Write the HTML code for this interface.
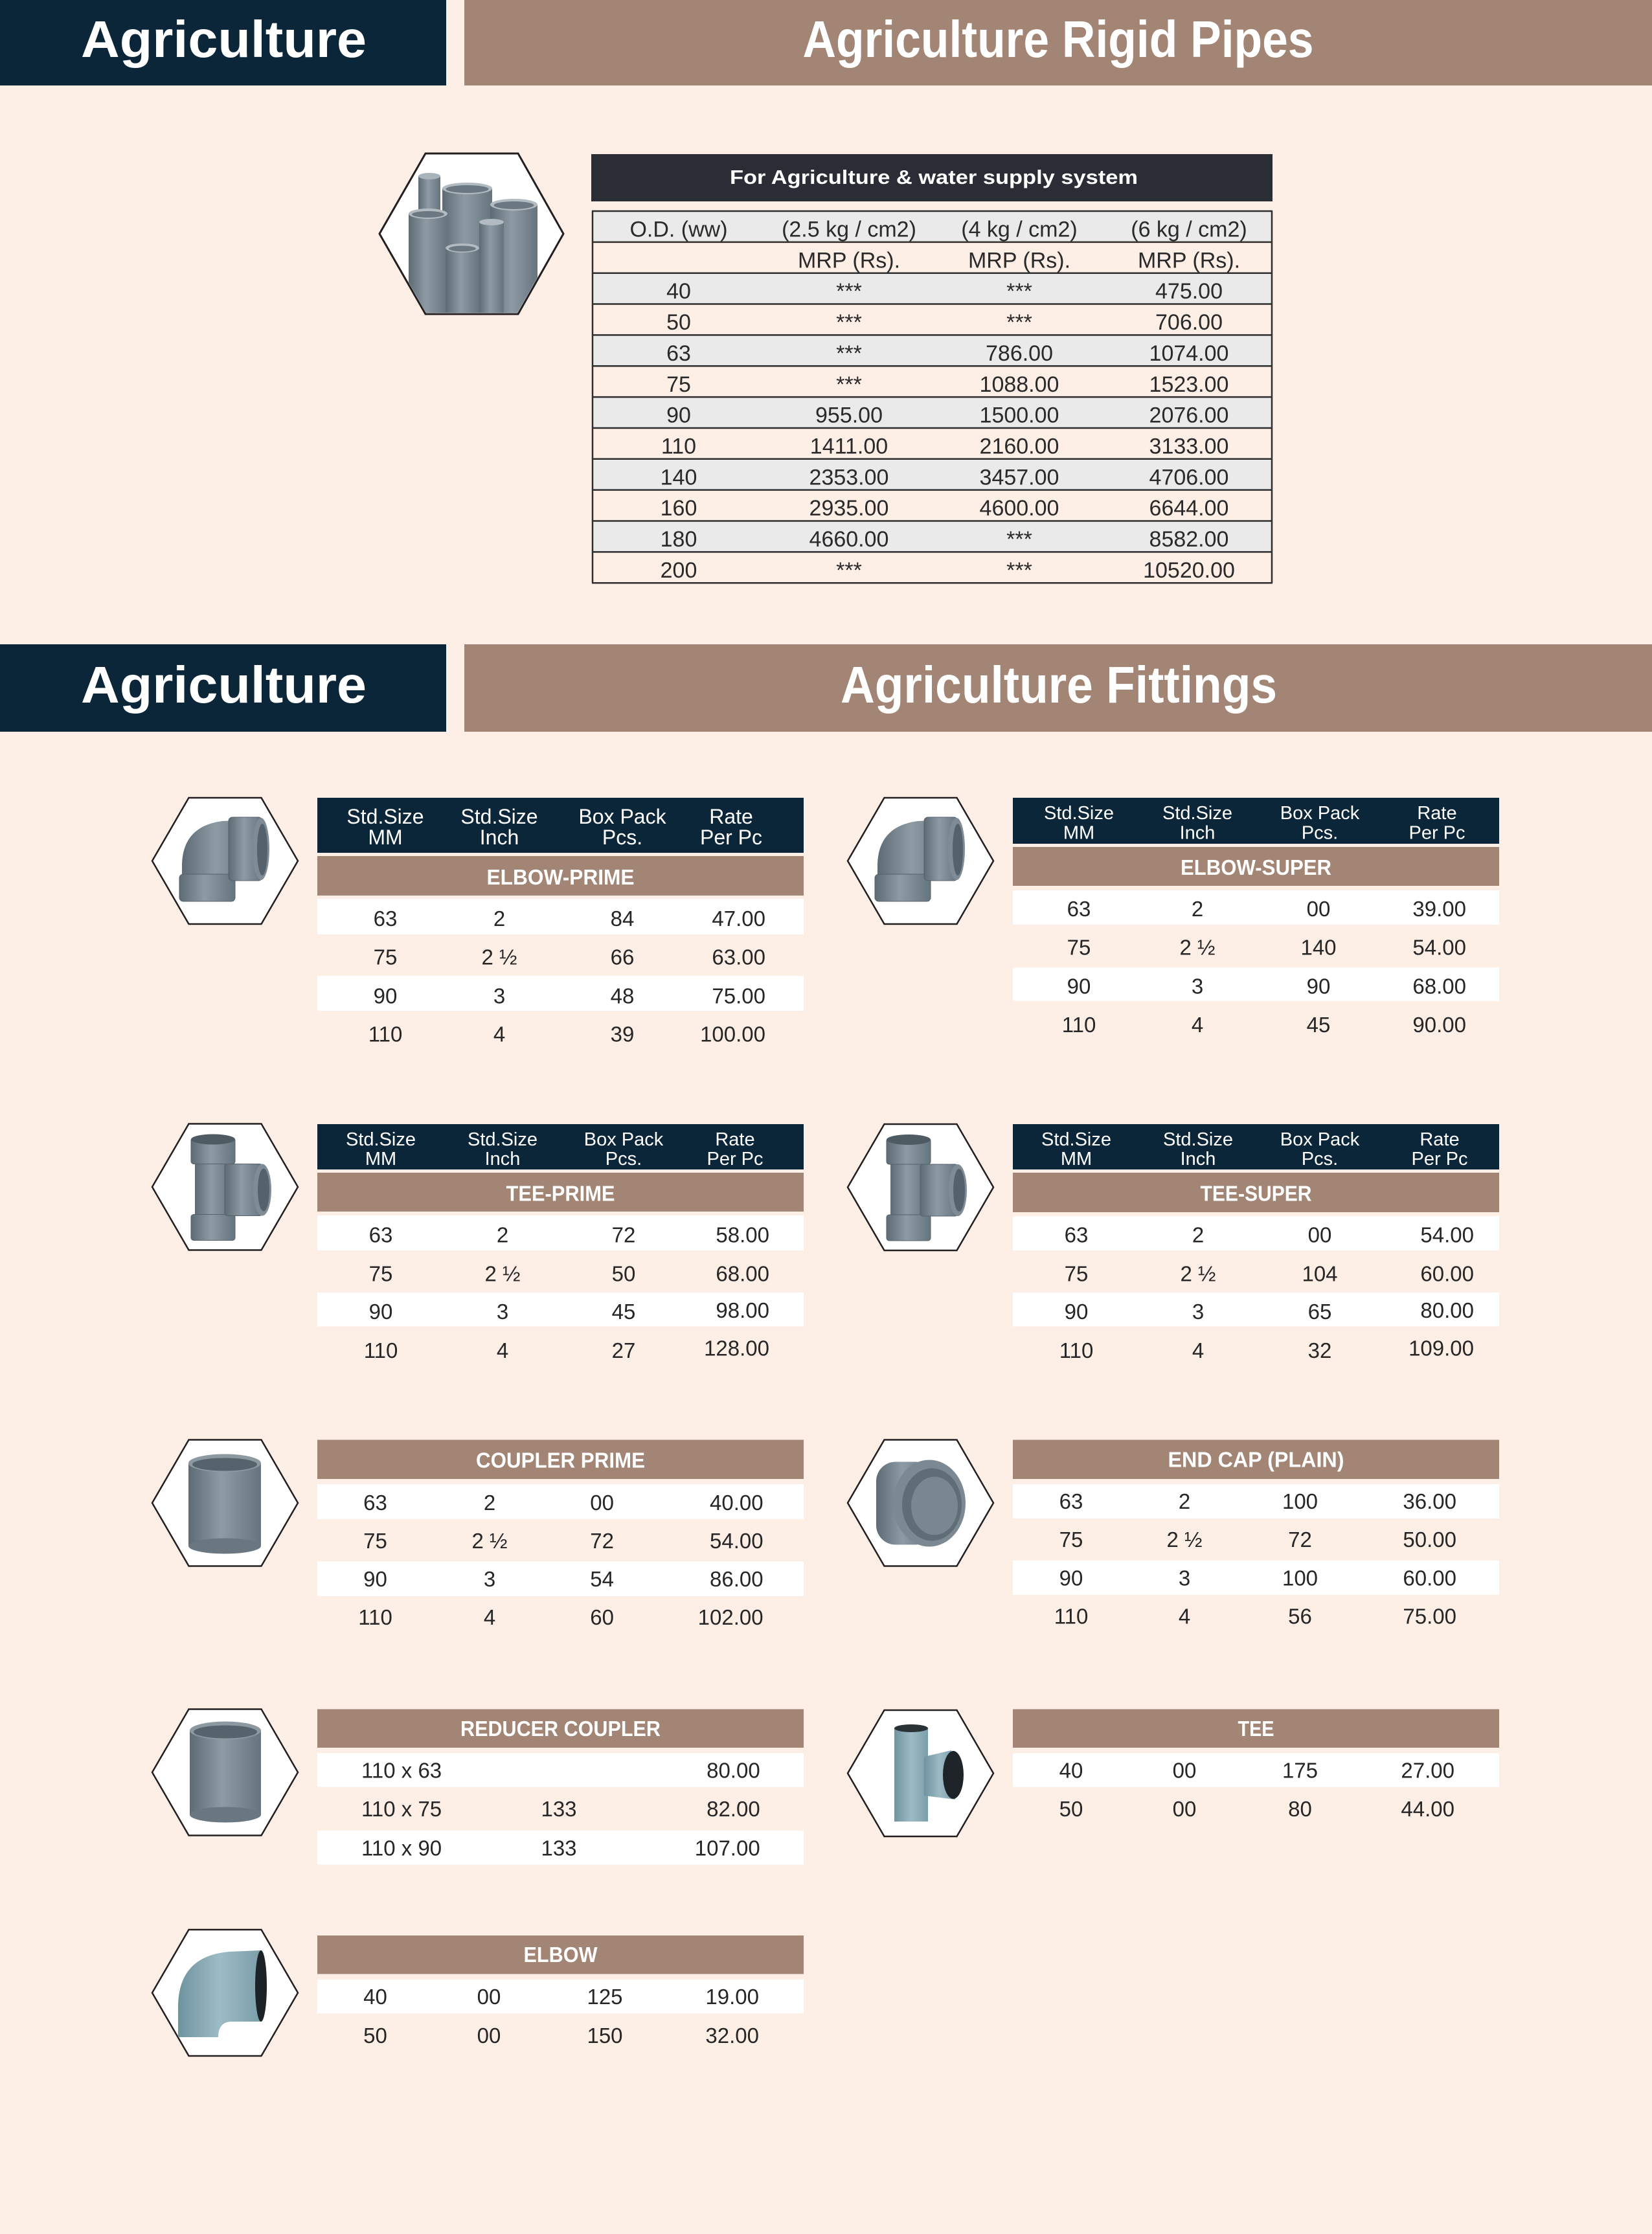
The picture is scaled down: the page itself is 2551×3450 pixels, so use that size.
<!DOCTYPE html>
<html><head><meta charset="utf-8"><style>
html,body{margin:0;padding:0;background:#fdeee6;}
svg{display:block;}
text{font-family:"Liberation Sans",Arial,sans-serif;}
.d{font-size:33px;fill:#262626;text-anchor:middle;}
.e{font-size:33px;fill:#262626;text-anchor:end;}
.s{font-size:33px;fill:#262626;text-anchor:start;}
.p{font-size:34px;fill:#2a2a2a;text-anchor:middle;}
.h1{font-size:32px;fill:#fff;text-anchor:middle;}
.h2{font-size:29px;fill:#fff;text-anchor:middle;}
.t{font-size:33px;fill:#fff;font-weight:bold;text-anchor:middle;}
.big{font-size:80px;fill:#fff;font-weight:bold;}
</style></head><body>
<svg xmlns="http://www.w3.org/2000/svg" width="2551" height="3450" viewBox="0 0 2551 3450">
<defs>
<linearGradient id="gp" x1="0" x2="1" y1="0" y2="0"><stop offset="0" stop-color="#5d6b75"/><stop offset="0.45" stop-color="#8e9ba4"/><stop offset="1" stop-color="#66747e"/></linearGradient>
<linearGradient id="gb" x1="0" x2="1" y1="0" y2="0"><stop offset="0" stop-color="#6e93a0"/><stop offset="0.5" stop-color="#9dbbc5"/><stop offset="1" stop-color="#7a9ea9"/></linearGradient>
<clipPath id="hx"><polygon points="588,361 658,239 799,239 868,361 799,483 658,483"/></clipPath>
</defs>
<rect x="0" y="0" width="2551" height="3450" fill="#fdeee6"/>

<!-- Top header -->
<rect x="0" y="0" width="689" height="132" fill="#0b2639"/>
<rect x="717" y="0" width="1834" height="132" fill="#a28574"/>
<text class="big" x="125" y="88" textLength="441" lengthAdjust="spacingAndGlyphs">Agriculture</text>
<text class="big" x="1634" y="88" text-anchor="middle" textLength="789" lengthAdjust="spacingAndGlyphs">Agriculture Rigid Pipes</text>

<!-- Pipes hexagon -->
<polygon points="586,361 657,237 800,237 870,361 800,485 657,485" fill="#fff" stroke="#231f20" stroke-width="3"/>
<g clip-path="url(#hx)">
<rect x="646" y="272" width="34" height="215" fill="url(#gp)"/><ellipse cx="663" cy="272" rx="17" ry="5" fill="#a9b3ba"/>
<rect x="683" y="291" width="77" height="196" fill="url(#gp)"/><ellipse cx="721.5" cy="291" rx="38.5" ry="9" fill="#b2bbc1"/><ellipse cx="721.5" cy="292" rx="33" ry="6" fill="#6c7881"/>
<rect x="757" y="316" width="73" height="171" fill="url(#gp)"/><ellipse cx="793.5" cy="316" rx="36.5" ry="9" fill="#b2bbc1"/><ellipse cx="793.5" cy="317" rx="31" ry="6" fill="#6c7881"/>
<rect x="631" y="330" width="60" height="157" fill="url(#gp)"/><ellipse cx="661" cy="330" rx="30" ry="8" fill="#b2bbc1"/><ellipse cx="661" cy="331" rx="25" ry="5" fill="#6c7881"/>
<rect x="740" y="343" width="38" height="144" fill="url(#gp)"/><ellipse cx="759" cy="343" rx="19" ry="5" fill="#b2bbc1"/>
<rect x="688" y="383" width="52" height="104" fill="url(#gp)"/><ellipse cx="714" cy="383" rx="26" ry="7" fill="#b2bbc1"/><ellipse cx="714" cy="384" rx="21" ry="4.5" fill="#6c7881"/>
</g>

<!-- Pipe table -->
<rect x="913" y="238" width="1052" height="73" fill="#2b2d36"/>
<text x="1442" y="284" text-anchor="middle" font-size="31" font-weight="bold" fill="#fff" textLength="630" lengthAdjust="spacingAndGlyphs">For Agriculture &amp; water supply system</text>
<g fill="#eaeaea">
<rect x="915" y="326" width="1049" height="47.85"/>
<rect x="915" y="421.7" width="1049" height="47.85"/>
<rect x="915" y="517.4" width="1049" height="47.85"/>
<rect x="915" y="613.1" width="1049" height="47.85"/>
<rect x="915" y="708.8" width="1049" height="47.85"/>
<rect x="915" y="804.5" width="1049" height="47.85"/>
</g>
<g stroke="#2e2e2e" stroke-width="2.5">
<line x1="914" x2="1965" y1="326" y2="326"/>
<line x1="914" x2="1965" y1="373.85" y2="373.85"/>
<line x1="914" x2="1965" y1="421.7" y2="421.7"/>
<line x1="914" x2="1965" y1="469.55" y2="469.55"/>
<line x1="914" x2="1965" y1="517.4" y2="517.4"/>
<line x1="914" x2="1965" y1="565.25" y2="565.25"/>
<line x1="914" x2="1965" y1="613.1" y2="613.1"/>
<line x1="914" x2="1965" y1="660.95" y2="660.95"/>
<line x1="914" x2="1965" y1="708.8" y2="708.8"/>
<line x1="914" x2="1965" y1="756.65" y2="756.65"/>
<line x1="914" x2="1965" y1="804.5" y2="804.5"/>
<line x1="914" x2="1965" y1="852.35" y2="852.35"/>
<line x1="914" x2="1965" y1="900.2" y2="900.2"/>
<line x1="915" x2="915" y1="326" y2="900.2"/>
<line x1="1964" x2="1964" y1="326" y2="900.2"/>
</g>
<text class="p" x="1048" y="365.5">O.D. (ww)</text><text class="p" x="1311" y="365.5">(2.5 kg / cm2)</text><text class="p" x="1574" y="365.5">(4 kg / cm2)</text><text class="p" x="1836" y="365.5">(6 kg / cm2)</text>
<text class="p" x="1311" y="413.4">MRP (Rs).</text><text class="p" x="1574" y="413.4">MRP (Rs).</text><text class="p" x="1836" y="413.4">MRP (Rs).</text>
<text class="p" x="1048" y="461.2">40</text><text class="p" x="1311" y="461.2">***</text><text class="p" x="1574" y="461.2">***</text><text class="p" x="1836" y="461.2">475.00</text>
<text class="p" x="1048" y="509">50</text><text class="p" x="1311" y="509">***</text><text class="p" x="1574" y="509">***</text><text class="p" x="1836" y="509">706.00</text>
<text class="p" x="1048" y="556.9">63</text><text class="p" x="1311" y="556.9">***</text><text class="p" x="1574" y="556.9">786.00</text><text class="p" x="1836" y="556.9">1074.00</text>
<text class="p" x="1048" y="604.8">75</text><text class="p" x="1311" y="604.8">***</text><text class="p" x="1574" y="604.8">1088.00</text><text class="p" x="1836" y="604.8">1523.00</text>
<text class="p" x="1048" y="652.6">90</text><text class="p" x="1311" y="652.6">955.00</text><text class="p" x="1574" y="652.6">1500.00</text><text class="p" x="1836" y="652.6">2076.00</text>
<text class="p" x="1048" y="700.5">110</text><text class="p" x="1311" y="700.5">1411.00</text><text class="p" x="1574" y="700.5">2160.00</text><text class="p" x="1836" y="700.5">3133.00</text>
<text class="p" x="1048" y="748.3">140</text><text class="p" x="1311" y="748.3">2353.00</text><text class="p" x="1574" y="748.3">3457.00</text><text class="p" x="1836" y="748.3">4706.00</text>
<text class="p" x="1048" y="796.2">160</text><text class="p" x="1311" y="796.2">2935.00</text><text class="p" x="1574" y="796.2">4600.00</text><text class="p" x="1836" y="796.2">6644.00</text>
<text class="p" x="1048" y="844">180</text><text class="p" x="1311" y="844">4660.00</text><text class="p" x="1574" y="844">***</text><text class="p" x="1836" y="844">8582.00</text>
<text class="p" x="1048" y="891.9">200</text><text class="p" x="1311" y="891.9">***</text><text class="p" x="1574" y="891.9">***</text><text class="p" x="1836" y="891.9">10520.00</text>

<!-- Second header -->
<rect x="0" y="995" width="689" height="135" fill="#0b2639"/>
<rect x="717" y="995" width="1834" height="135" fill="#a28574"/>
<text class="big" x="125" y="1085" textLength="441" lengthAdjust="spacingAndGlyphs">Agriculture</text>
<text class="big" x="1635" y="1085" text-anchor="middle" textLength="674" lengthAdjust="spacingAndGlyphs">Agriculture Fittings</text>

<!-- Hexagons -->
<g fill="#fff" stroke="#231f20" stroke-width="2.5">
<polygon points="235,1329.5 291.5,1232 403.5,1232 460,1329.5 403.5,1427 291.5,1427"/>
<polygon points="235,1833 291.5,1735.5 403.5,1735.5 460,1833 403.5,1930.5 291.5,1930.5"/>
<polygon points="235,2321 291.5,2223.5 403.5,2223.5 460,2321 403.5,2418.5 291.5,2418.5"/>
<polygon points="235,2737 291.5,2639.5 403.5,2639.5 460,2737 403.5,2834.5 291.5,2834.5"/>
<polygon points="235,3077.5 291.5,2980 403.5,2980 460,3077.5 403.5,3175 291.5,3175"/>
<polygon points="1309,1329.5 1365.5,1232 1477.5,1232 1534,1329.5 1477.5,1427 1365.5,1427"/>
<polygon points="1309,1833.5 1365.5,1736 1477.5,1736 1534,1833.5 1477.5,1931 1365.5,1931"/>
<polygon points="1309,2321 1365.5,2223.5 1477.5,2223.5 1534,2321 1477.5,2418.5 1365.5,2418.5"/>
<polygon points="1309,2738.5 1365.5,2641 1477.5,2641 1534,2738.5 1477.5,2836 1365.5,2836"/>
</g>

<!-- Elbow grey (prime) -->
<g transform="translate(235,1232)">
<path d="M46,160 L46,102 Q48,44 108,36 L160,34 L160,124 L126,124 L126,160 Z" fill="url(#gp)"/>
<rect x="42" y="118" width="86" height="42" rx="6" fill="url(#gp)" stroke="#55626b" stroke-width="1"/>
<rect x="118" y="30" width="52" height="98" rx="6" fill="url(#gp)" stroke="#55626b" stroke-width="1"/>
<ellipse cx="168" cy="79" rx="13" ry="48" fill="#7f8c95"/><ellipse cx="170" cy="80" rx="8" ry="40" fill="#55626b"/>
</g>
<g transform="translate(1309,1232)">
<path d="M46,160 L46,102 Q48,44 108,36 L160,34 L160,124 L126,124 L126,160 Z" fill="url(#gp)"/>
<rect x="42" y="118" width="86" height="42" rx="6" fill="url(#gp)" stroke="#55626b" stroke-width="1"/>
<rect x="118" y="30" width="52" height="98" rx="6" fill="url(#gp)" stroke="#55626b" stroke-width="1"/>
<ellipse cx="168" cy="79" rx="13" ry="48" fill="#7f8c95"/><ellipse cx="170" cy="80" rx="8" ry="40" fill="#55626b"/>
</g>
<!-- Tee grey -->
<g transform="translate(235,1735.5)">
<rect x="66" y="22" width="56" height="156" fill="url(#gp)"/>
<rect x="60" y="22" width="68" height="40" rx="4" fill="url(#gp)" stroke="#55626b" stroke-width="1"/>
<rect x="60" y="140" width="68" height="40" rx="4" fill="url(#gp)" stroke="#55626b" stroke-width="1"/>
<ellipse cx="94" cy="24" rx="34" ry="8" fill="#4f5b63"/>
<rect x="112" y="62" width="58" height="80" rx="4" fill="url(#gp)" stroke="#55626b" stroke-width="1"/>
<ellipse cx="170" cy="102" rx="14" ry="40" fill="#7f8c95"/><ellipse cx="172" cy="102" rx="9" ry="33" fill="#55626b"/>
</g>
<g transform="translate(1309,1736)">
<rect x="66" y="22" width="56" height="156" fill="url(#gp)"/>
<rect x="60" y="22" width="68" height="40" rx="4" fill="url(#gp)" stroke="#55626b" stroke-width="1"/>
<rect x="60" y="140" width="68" height="40" rx="4" fill="url(#gp)" stroke="#55626b" stroke-width="1"/>
<ellipse cx="94" cy="24" rx="34" ry="8" fill="#4f5b63"/>
<rect x="112" y="62" width="58" height="80" rx="4" fill="url(#gp)" stroke="#55626b" stroke-width="1"/>
<ellipse cx="170" cy="102" rx="14" ry="40" fill="#7f8c95"/><ellipse cx="172" cy="102" rx="9" ry="33" fill="#55626b"/>
</g>
<!-- Couplers -->
<g transform="translate(235,2223.5)">
<rect x="56" y="36" width="112" height="128" fill="url(#gp)"/>
<ellipse cx="112" cy="164" rx="56" ry="12" fill="#6a7780"/>
<ellipse cx="112" cy="36" rx="56" ry="14" fill="#8d99a1"/><ellipse cx="112" cy="38" rx="50" ry="10" fill="#56636c"/>
</g>
<g transform="translate(235,2639.5)">
<rect x="58" y="33" width="110" height="130" fill="url(#gp)"/>
<ellipse cx="113" cy="163" rx="55" ry="12" fill="#6a7780"/>
<ellipse cx="113" cy="33" rx="55" ry="14" fill="#8d99a1"/><ellipse cx="113" cy="35" rx="49" ry="10" fill="#56636c"/>
</g>
<!-- End cap -->
<g transform="translate(1309,2223.5)">
<rect x="44" y="34" width="90" height="128" rx="30" fill="url(#gp)"/>
<ellipse cx="126" cy="98" rx="56" ry="67" fill="#7c8992"/>
<ellipse cx="130" cy="100" rx="46" ry="56" fill="#5f6d76"/>
<ellipse cx="134" cy="102" rx="36" ry="45" fill="#7a8790"/>
</g>
<!-- Tee blue -->
<g transform="translate(1309,2641)">
<rect x="72" y="28" width="52" height="144" fill="url(#gb)"/>
<ellipse cx="98" cy="28" rx="26" ry="6" fill="#2a3236"/>
<path d="M118,72 L160,62 L166,138 L118,132 Z" fill="url(#gb)"/>
<ellipse cx="163" cy="100" rx="16" ry="37" fill="#1e2427"/>
</g>
<!-- Elbow blue -->
<g transform="translate(235,2980)">
<path d="M40,166 L40,116 Q42,40 120,34 L168,32 L168,142 L120,142 Q102,144 102,166 Z" fill="url(#gb)"/>
<ellipse cx="168" cy="87" rx="9" ry="55" fill="#1c2226"/>
</g>

<!-- ===== ELBOW-PRIME ===== -->
<rect x="490" y="1232" width="751" height="85" fill="#0b2639"/>
<text class="h1" x="595" y="1272">Std.Size</text><text class="h1" x="595" y="1304">MM</text>
<text class="h1" x="771" y="1272">Std.Size</text><text class="h1" x="771" y="1304">Inch</text>
<text class="h1" x="961" y="1272">Box Pack</text><text class="h1" x="961" y="1304">Pcs.</text>
<text class="h1" x="1129" y="1272">Rate</text><text class="h1" x="1129" y="1304">Per Pc</text>
<rect x="490" y="1322" width="751" height="61" fill="#a28574"/>
<text class="t" x="865.5" y="1366" textLength="228" lengthAdjust="spacingAndGlyphs">ELBOW-PRIME</text>
<rect x="490" y="1388" width="751" height="55" fill="#fff"/>
<rect x="490" y="1507" width="751" height="54" fill="#fff"/>
<text class="d" x="595" y="1430">63</text><text class="d" x="771" y="1430">2</text><text class="d" x="961" y="1430">84</text><text class="e" x="1182" y="1430">47.00</text>
<text class="d" x="595" y="1489.5">75</text><text class="d" x="771" y="1489.5">2 ½</text><text class="d" x="961" y="1489.5">66</text><text class="e" x="1182" y="1489.5">63.00</text>
<text class="d" x="595" y="1549.5">90</text><text class="d" x="771" y="1549.5">3</text><text class="d" x="961" y="1549.5">48</text><text class="e" x="1182" y="1549.5">75.00</text>
<text class="d" x="595" y="1608.5">110</text><text class="d" x="771" y="1608.5">4</text><text class="d" x="961" y="1608.5">39</text><text class="e" x="1182" y="1608.5">100.00</text>

<!-- ===== ELBOW-SUPER ===== -->
<rect x="1564" y="1232" width="751" height="71" fill="#0b2639"/>
<text class="h2" x="1666" y="1265">Std.Size</text><text class="h2" x="1666" y="1295.5">MM</text>
<text class="h2" x="1849" y="1265">Std.Size</text><text class="h2" x="1849" y="1295.5">Inch</text>
<text class="h2" x="2038" y="1265">Box Pack</text><text class="h2" x="2038" y="1295.5">Pcs.</text>
<text class="h2" x="2219" y="1265">Rate</text><text class="h2" x="2219" y="1295.5">Per Pc</text>
<rect x="1564" y="1308" width="751" height="60" fill="#a28574"/>
<text class="t" x="1939.5" y="1351" textLength="233" lengthAdjust="spacingAndGlyphs">ELBOW-SUPER</text>
<rect x="1564" y="1375" width="751" height="53" fill="#fff"/>
<rect x="1564" y="1494" width="751" height="52" fill="#fff"/>
<text class="d" x="1666" y="1415">63</text><text class="d" x="1849" y="1415">2</text><text class="d" x="2036" y="1415">00</text><text class="e" x="2264" y="1415">39.00</text>
<text class="d" x="1666" y="1474.6">75</text><text class="d" x="1849" y="1474.6">2 ½</text><text class="d" x="2036" y="1474.6">140</text><text class="e" x="2264" y="1474.6">54.00</text>
<text class="d" x="1666" y="1534.3">90</text><text class="d" x="1849" y="1534.3">3</text><text class="d" x="2036" y="1534.3">90</text><text class="e" x="2264" y="1534.3">68.00</text>
<text class="d" x="1666" y="1594">110</text><text class="d" x="1849" y="1594">4</text><text class="d" x="2036" y="1594">45</text><text class="e" x="2264" y="1594">90.00</text>

<!-- ===== TEE-PRIME ===== -->
<rect x="490" y="1736" width="751" height="70" fill="#0b2639"/>
<text class="h2" x="588" y="1769">Std.Size</text><text class="h2" x="588" y="1799">MM</text>
<text class="h2" x="776" y="1769">Std.Size</text><text class="h2" x="776" y="1799">Inch</text>
<text class="h2" x="963" y="1769">Box Pack</text><text class="h2" x="963" y="1799">Pcs.</text>
<text class="h2" x="1135" y="1769">Rate</text><text class="h2" x="1135" y="1799">Per Pc</text>
<rect x="490" y="1811" width="751" height="60" fill="#a28574"/>
<text class="t" x="865.5" y="1854.5" textLength="168" lengthAdjust="spacingAndGlyphs">TEE-PRIME</text>
<rect x="490" y="1877" width="751" height="54" fill="#fff"/>
<rect x="490" y="1996" width="751" height="52.5" fill="#fff"/>
<text class="d" x="588" y="1918.7">63</text><text class="d" x="776" y="1918.7">2</text><text class="d" x="963" y="1918.7">72</text><text class="e" x="1188" y="1918.7">58.00</text>
<text class="d" x="588" y="1978.3">75</text><text class="d" x="776" y="1978.3">2 ½</text><text class="d" x="963" y="1978.3">50</text><text class="e" x="1188" y="1978.3">68.00</text>
<text class="d" x="588" y="2037.2">90</text><text class="d" x="776" y="2037.2">3</text><text class="d" x="963" y="2037.2">45</text><text class="e" x="1188" y="2035">98.00</text>
<text class="d" x="588" y="2096.9">110</text><text class="d" x="776" y="2096.9">4</text><text class="d" x="963" y="2096.9">27</text><text class="e" x="1188" y="2093.5">128.00</text>

<!-- ===== TEE-SUPER ===== -->
<rect x="1564" y="1736" width="751" height="70" fill="#0b2639"/>
<text class="h2" x="1662" y="1769">Std.Size</text><text class="h2" x="1662" y="1799">MM</text>
<text class="h2" x="1850" y="1769">Std.Size</text><text class="h2" x="1850" y="1799">Inch</text>
<text class="h2" x="2038" y="1769">Box Pack</text><text class="h2" x="2038" y="1799">Pcs.</text>
<text class="h2" x="2223" y="1769">Rate</text><text class="h2" x="2223" y="1799">Per Pc</text>
<rect x="1564" y="1811" width="751" height="61" fill="#a28574"/>
<text class="t" x="1939.5" y="1854.5" textLength="172" lengthAdjust="spacingAndGlyphs">TEE-SUPER</text>
<rect x="1564" y="1878" width="751" height="53" fill="#fff"/>
<rect x="1564" y="1996" width="751" height="52.5" fill="#fff"/>
<text class="d" x="1662" y="1918.7">63</text><text class="d" x="1850" y="1918.7">2</text><text class="d" x="2038" y="1918.7">00</text><text class="e" x="2276" y="1918.7">54.00</text>
<text class="d" x="1662" y="1978.3">75</text><text class="d" x="1850" y="1978.3">2 ½</text><text class="d" x="2038" y="1978.3">104</text><text class="e" x="2276" y="1978.3">60.00</text>
<text class="d" x="1662" y="2037.2">90</text><text class="d" x="1850" y="2037.2">3</text><text class="d" x="2038" y="2037.2">65</text><text class="e" x="2276" y="2035">80.00</text>
<text class="d" x="1662" y="2096.9">110</text><text class="d" x="1850" y="2096.9">4</text><text class="d" x="2038" y="2096.9">32</text><text class="e" x="2276" y="2093.5">109.00</text>

<!-- ===== COUPLER PRIME ===== -->
<rect x="490" y="2223.5" width="751" height="60.5" fill="#a28574"/>
<text class="t" x="865.5" y="2266.3" textLength="261" lengthAdjust="spacingAndGlyphs">COUPLER PRIME</text>
<rect x="490" y="2292" width="751" height="54" fill="#fff"/>
<rect x="490" y="2411.5" width="751" height="53.5" fill="#fff"/>
<text class="d" x="579.5" y="2332">63</text><text class="d" x="756" y="2332">2</text><text class="d" x="929.6" y="2332">00</text><text class="e" x="1178.6" y="2332">40.00</text>
<text class="d" x="579.5" y="2391">75</text><text class="d" x="756" y="2391">2 ½</text><text class="d" x="929.6" y="2391">72</text><text class="e" x="1178.6" y="2391">54.00</text>
<text class="d" x="579.5" y="2450">90</text><text class="d" x="756" y="2450">3</text><text class="d" x="929.6" y="2450">54</text><text class="e" x="1178.6" y="2450">86.00</text>
<text class="d" x="579.5" y="2509">110</text><text class="d" x="756" y="2509">4</text><text class="d" x="929.6" y="2509">60</text><text class="e" x="1178.6" y="2509">102.00</text>

<!-- ===== END CAP ===== -->
<rect x="1564" y="2223.5" width="751" height="60.5" fill="#a28574"/>
<text class="t" x="1939.5" y="2265.6" textLength="272" lengthAdjust="spacingAndGlyphs">END CAP (PLAIN)</text>
<rect x="1564" y="2292" width="751" height="53" fill="#fff"/>
<rect x="1564" y="2410" width="751" height="53" fill="#fff"/>
<text class="d" x="1654" y="2330">63</text><text class="d" x="1829" y="2330">2</text><text class="d" x="2007.5" y="2330">100</text><text class="e" x="2249" y="2330">36.00</text>
<text class="d" x="1654" y="2389">75</text><text class="d" x="1829" y="2389">2 ½</text><text class="d" x="2007.5" y="2389">72</text><text class="e" x="2249" y="2389">50.00</text>
<text class="d" x="1654" y="2448.7">90</text><text class="d" x="1829" y="2448.7">3</text><text class="d" x="2007.5" y="2448.7">100</text><text class="e" x="2249" y="2448.7">60.00</text>
<text class="d" x="1654" y="2507.6">110</text><text class="d" x="1829" y="2507.6">4</text><text class="d" x="2007.5" y="2507.6">56</text><text class="e" x="2249" y="2507.6">75.00</text>

<!-- ===== REDUCER COUPLER ===== -->
<rect x="490" y="2639.5" width="751" height="59.5" fill="#a28574"/>
<text class="t" x="865.5" y="2681" textLength="309" lengthAdjust="spacingAndGlyphs">REDUCER COUPLER</text>
<rect x="490" y="2707.5" width="751" height="52" fill="#fff"/>
<rect x="490" y="2827" width="751" height="52.5" fill="#fff"/>
<text class="s" x="558" y="2745.4">110 x 63</text><text class="e" x="1173.7" y="2745.4">80.00</text>
<text class="s" x="558" y="2805">110 x 75</text><text class="d" x="863" y="2805">133</text><text class="e" x="1173.7" y="2805">82.00</text>
<text class="s" x="558" y="2865.4">110 x 90</text><text class="d" x="863" y="2865.4">133</text><text class="e" x="1173.7" y="2865.4">107.00</text>

<!-- ===== TEE ===== -->
<rect x="1564" y="2639.5" width="751" height="59.5" fill="#a28574"/>
<text class="t" x="1939.5" y="2681" textLength="56" lengthAdjust="spacingAndGlyphs">TEE</text>
<rect x="1564" y="2707.5" width="751" height="52" fill="#fff"/>
<text class="d" x="1654" y="2745.4">40</text><text class="d" x="1829" y="2745.4">00</text><text class="d" x="2007.5" y="2745.4">175</text><text class="e" x="2246" y="2745.4">27.00</text>
<text class="d" x="1654" y="2805">50</text><text class="d" x="1829" y="2805">00</text><text class="d" x="2007.5" y="2805">80</text><text class="e" x="2246" y="2805">44.00</text>

<!-- ===== ELBOW ===== -->
<rect x="490" y="2989" width="751" height="59.5" fill="#a28574"/>
<text class="t" x="865.5" y="3030" textLength="114" lengthAdjust="spacingAndGlyphs">ELBOW</text>
<rect x="490" y="3057" width="751" height="52.5" fill="#fff"/>
<text class="d" x="579.5" y="3094.8">40</text><text class="d" x="755" y="3094.8">00</text><text class="d" x="934" y="3094.8">125</text><text class="e" x="1172" y="3094.8">19.00</text>
<text class="d" x="579.5" y="3155">50</text><text class="d" x="755" y="3155">00</text><text class="d" x="934" y="3155">150</text><text class="e" x="1172" y="3155">32.00</text>
</svg>
</body></html>
